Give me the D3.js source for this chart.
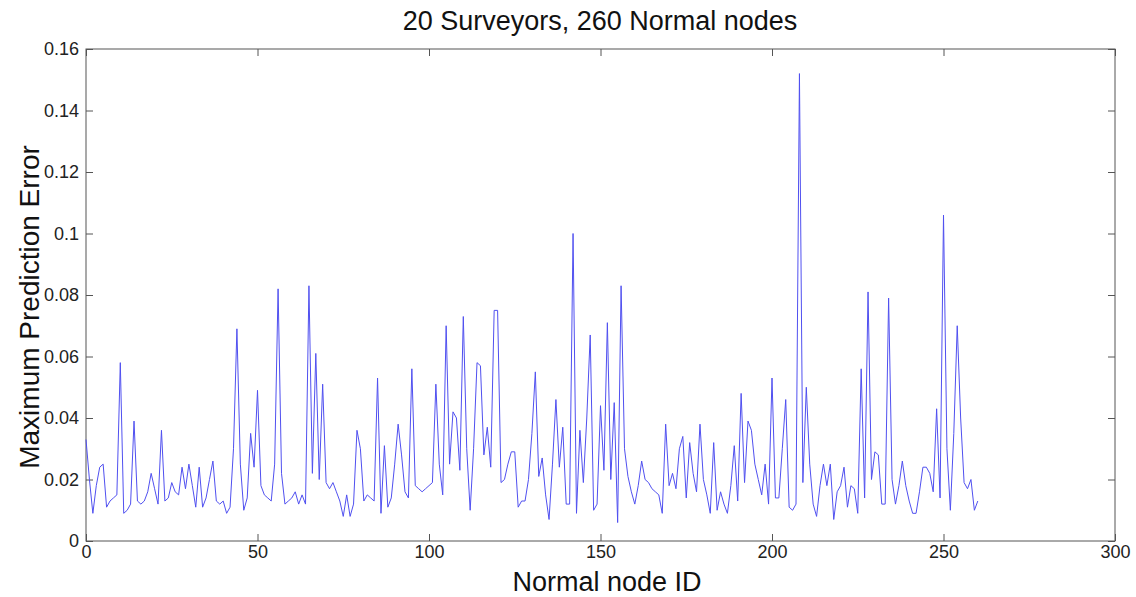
<!DOCTYPE html>
<html>
<head>
<meta charset="utf-8">
<script src="https://cdn.jsdelivr.net/npm/d3@7"></script>
<style>
  body { margin: 0; background: #fff; }
  svg { display: block; font-family: "Liberation Sans", Arial, sans-serif; }
</style>
</head>
<body>
<svg id="chart" width="1136" height="597"></svg>
<script>
// -------- DATA --------
const chartTitle = "20 Surveyors, 260 Normal nodes";
const xLabel = "Normal node ID";
const yLabel = "Maximum Prediction Error";
const xTicks = [0, 50, 100, 150, 200, 250, 300];
const yTicks = [0, 0.02, 0.04, 0.06, 0.08, 0.1, 0.12, 0.14, 0.16];

// max prediction error per normal node
const errors = [
  0.033, 0.020, 0.009, 0.018, 0.024, 0.025, 0.011, 0.013, 0.014, 0.015,
  0.058, 0.009, 0.010, 0.012, 0.039, 0.013, 0.012, 0.013, 0.016, 0.022,
  0.017, 0.012, 0.036, 0.013, 0.014, 0.019, 0.016, 0.015, 0.024, 0.017,
  0.025, 0.018, 0.011, 0.024, 0.011, 0.014, 0.020, 0.026, 0.013, 0.012,
  0.013, 0.009, 0.011, 0.030, 0.069, 0.025, 0.010, 0.014, 0.035, 0.024,
  0.049, 0.018, 0.015, 0.014, 0.013, 0.025, 0.082, 0.022, 0.012, 0.013,
  0.014, 0.016, 0.012, 0.015, 0.012, 0.083, 0.022, 0.061, 0.020, 0.051,
  0.019, 0.017, 0.019, 0.016, 0.013, 0.008, 0.015, 0.008, 0.012, 0.036,
  0.030, 0.013, 0.015, 0.014, 0.013, 0.053, 0.009, 0.031, 0.011, 0.014,
  0.025, 0.038, 0.028, 0.016, 0.014, 0.056, 0.018, 0.017, 0.016, 0.017,
  0.018, 0.019, 0.051, 0.025, 0.015, 0.070, 0.025, 0.042, 0.040, 0.023,
  0.073, 0.030, 0.010, 0.030, 0.058, 0.057, 0.028, 0.037, 0.024, 0.075,
  0.075, 0.019, 0.020, 0.025, 0.029, 0.029, 0.011, 0.013, 0.013, 0.020,
  0.035, 0.055, 0.021, 0.027, 0.015, 0.007, 0.025, 0.046, 0.024, 0.037,
  0.012, 0.012, 0.100, 0.009, 0.036, 0.019, 0.040, 0.067, 0.010, 0.012,
  0.044, 0.023, 0.071, 0.020, 0.045, 0.006, 0.083, 0.030, 0.021, 0.016,
  0.012, 0.018, 0.026, 0.020, 0.019, 0.017, 0.016, 0.015, 0.009, 0.038,
  0.018, 0.022, 0.017, 0.030, 0.034, 0.014, 0.032, 0.022, 0.016, 0.038,
  0.020, 0.015, 0.009, 0.032, 0.010, 0.016, 0.012, 0.009, 0.018, 0.031,
  0.013, 0.048, 0.019, 0.039, 0.036, 0.025, 0.020, 0.015, 0.025, 0.012,
  0.053, 0.014, 0.014, 0.030, 0.046, 0.011, 0.010, 0.012, 0.152, 0.019,
  0.050, 0.025, 0.012, 0.008, 0.018, 0.025, 0.018, 0.025, 0.007, 0.016,
  0.018, 0.024, 0.011, 0.018, 0.017, 0.009, 0.056, 0.014, 0.081, 0.020,
  0.029, 0.028, 0.012, 0.012, 0.079, 0.020, 0.012, 0.018, 0.026, 0.018,
  0.013, 0.009, 0.009, 0.016, 0.024, 0.024, 0.022, 0.016, 0.043, 0.014,
  0.106, 0.030, 0.010, 0.035, 0.070, 0.040, 0.019, 0.017, 0.020, 0.010,
  0.013
];

// -------- LAYOUT --------
const svg = d3.select("#chart");
const margin = { left: 86, right: 1115, top: 49, bottom: 541 };

const x = d3.scaleLinear().domain([0, 300]).range([margin.left, margin.right]);
const y = d3.scaleLinear().domain([0, 0.16]).range([margin.bottom, margin.top]);

const axisColor = "#555";
const tickLen = 7;

// plot box
svg.append("rect")
  .attr("x", margin.left)
  .attr("y", margin.top)
  .attr("width", margin.right - margin.left)
  .attr("height", margin.bottom - margin.top)
  .attr("fill", "#fff")
  .attr("stroke", axisColor)
  .attr("stroke-width", 1);

// axes (ticks inward, mirrored on top/right like matlab)
const fmtY = d => d === 0 ? "0" : d3.format("")(+d.toFixed(2));

const gx = svg.append("g")
  .attr("transform", `translate(0,${margin.bottom})`)
  .call(d3.axisBottom(x).tickValues(xTicks).tickSizeInner(-tickLen).tickSizeOuter(0).tickPadding(4));
const gxTop = svg.append("g")
  .attr("transform", `translate(0,${margin.top})`)
  .call(d3.axisTop(x).tickValues(xTicks).tickSizeInner(-tickLen).tickSizeOuter(0).tickFormat(""));
const gy = svg.append("g")
  .attr("transform", `translate(${margin.left},0)`)
  .call(d3.axisLeft(y).tickValues(yTicks).tickSizeInner(-tickLen).tickSizeOuter(0).tickPadding(7).tickFormat(fmtY));
const gyRight = svg.append("g")
  .attr("transform", `translate(${margin.right},0)`)
  .call(d3.axisRight(y).tickValues(yTicks).tickSizeInner(-tickLen).tickSizeOuter(0).tickFormat(""));

[gx, gxTop, gy, gyRight].forEach(g => {
  g.select(".domain").remove();
  g.selectAll(".tick line").attr("stroke", axisColor);
  g.selectAll("text")
    .attr("fill", "#222")
    .attr("font-size", 18)
    .attr("font-family", "Liberation Sans, Arial, sans-serif");
});

// -------- LINE --------
const line = d3.line()
  .x((d, i) => x(i))
  .y(d => y(d));

svg.append("path")
  .datum(errors)
  .attr("d", line)
  .attr("fill", "none")
  .attr("stroke", "#5050f0")
  .attr("stroke-width", 1);

// -------- LABELS --------
svg.append("text")
  .attr("x", 600)
  .attr("y", 30)
  .attr("text-anchor", "middle")
  .attr("font-size", 27)
  .attr("fill", "#111")
  .text(chartTitle);

svg.append("text")
  .attr("x", 607)
  .attr("y", 591)
  .attr("text-anchor", "middle")
  .attr("font-size", 27)
  .attr("fill", "#111")
  .text(xLabel);

svg.append("text")
  .attr("transform", `translate(39,${(margin.top + margin.bottom) / 2 + 12}) rotate(-90)`)
  .attr("text-anchor", "middle")
  .attr("font-size", 28)
  .attr("fill", "#111")
  .text(yLabel);
</script>
</body>
</html>
